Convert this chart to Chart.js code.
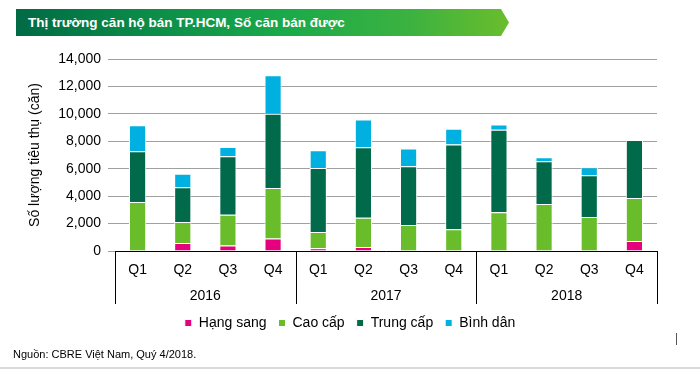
<!DOCTYPE html>
<html>
<head>
<meta charset="utf-8">
<script src="https://cdn.jsdelivr.net/npm/chart.js@4"></script>
<style>
  body { margin: 0; background: #fff; font-family: "Liberation Sans", Arial, sans-serif; }
  #wrap { position: relative; width: 700px; height: 370px; overflow: hidden; }
  #chartBar { position: absolute; left: 0; top: 0; }
  .banner {
    position: absolute; left: 16px; top: 9px; width: 493px; height: 27px;
    background: linear-gradient(to right, #006a45 0%, #0a8a48 25%, #1aaa4a 55%, #3cb240 80%, #6abd2c 100%);
    clip-path: polygon(0 0, 485px 0, 493px 13.5px, 485px 27px, 0 27px);
    color: #fff; font: bold 13.5px "Liberation Sans", Arial, sans-serif;
    line-height: 27px; padding-left: 12px; box-sizing: border-box;
  }
  .source { position: absolute; left: 13px; top: 348px; font-size: 11px; color: #000; }
  .rule { position: absolute; left: 0; top: 367px; width: 700px; height: 2px; background: #d9d9d9; }
  .tick { position: absolute; left: 676px; top: 333px; width: 1px; height: 12px; background: #555; }
</style>
</head>
<body>
<div id="wrap">
  <canvas id="chartBar" width="700" height="370"></canvas>
  <div class="banner">Thị trường căn hộ bán TP.HCM, Số căn bán được</div>
  <div class="source">Nguồn: CBRE Việt Nam, Quý 4/2018.</div>
  <div class="rule"></div>
  <div class="tick"></div>
</div>
<script>
var quarters = ["Q1", "Q2", "Q3", "Q4", "Q1", "Q2", "Q3", "Q4", "Q1", "Q2", "Q3", "Q4"];
var years = ["2016", "2017", "2018"];
var hangSang = [0, 580, 400, 920, 200, 300, 0, 0, 0, 0, 0, 730];
var caoCap = [3580, 1540, 2250, 3680, 1190, 2130, 1900, 1580, 2820, 3430, 2480, 3140];
var trungCap = [3690, 2520, 4250, 5400, 4670, 5130, 4280, 6180, 6030, 3110, 3040, 4230];
var binhDan = [1900, 1000, 690, 2820, 1290, 2020, 1290, 1150, 370, 290, 580, 0];
var yTicks = [0, 2000, 4000, 6000, 8000, 10000, 12000, 14000];

var font = "'Liberation Sans', Arial, sans-serif";

// year dividers under the category axis
var dividers = {
  id: "dividers",
  afterDraw: function (chart) {
    var x = chart.scales.x, x2 = chart.scales.x2, c = chart.ctx;
    var n = quarters.length, per = n / years.length;
    c.save();
    c.strokeStyle = "#000";
    c.lineWidth = 1;
    for (var k = 0; k <= years.length; k++) {
      var px = Math.round(x.left + x.width * (k * per) / n) + 0.5;
      c.beginPath();
      c.moveTo(px, chart.chartArea.bottom);
      c.lineTo(px, x2.bottom);
      c.stroke();
    }
    c.restore();
  }
};

var ctx = document.getElementById("chartBar").getContext("2d");

const chartBar = new Chart(ctx, {
  type: "bar",
  data: {
    labels: quarters,
    datasets: [
      { label: "Hạng sang", data: hangSang, backgroundColor: "#e6007e" },
      { label: "Cao cấp", data: caoCap, backgroundColor: "#6abd2a" },
      { label: "Trung cấp", data: trungCap, backgroundColor: "#006a4a" },
      { label: "Bình dân", data: binhDan, backgroundColor: "#00b0e0" },
    ],
  },
  options: {
    responsive: false,
    animation: false,
    layout: { padding: { top: 59, right: 0, bottom: 30, left: 0 } },
    datasets: {
      bar: { borderColor: "#fff", borderWidth: 1, barPercentage: 0.38, categoryPercentage: 1 },
    },
    plugins: {
      tooltip: { enabled: false },
      legend: {
        position: "bottom",
        labels: { boxWidth: 7, boxHeight: 7, padding: 12, color: "#000", font: { family: font, size: 14 } },
      },
    },
    scales: {
      x: {
        stacked: true,
        afterFit: function (s) { s.height = 30; },
        grid: { display: false, drawTicks: false },
        border: { display: true, color: "#000", width: 1 },
        ticks: { color: "#000", padding: 11, font: { family: font, size: 14 } },
      },
      x2: {
        type: "category",
        labels: years,
        position: "bottom",
        afterFit: function (s) { s.height = 23; },
        grid: { display: false, drawTicks: false },
        border: { display: false },
        ticks: { color: "#000", padding: 7, font: { family: font, size: 14 } },
      },
      y: {
        stacked: true,
        min: 0,
        max: 14000,
        afterBuildTicks: function (s) { s.ticks = yTicks.map(function (v) { return { value: v }; }); },
        afterFit: function (s) { s.width = 115; },
        grid: { color: "#a0a0a0", tickLength: 7 },
        border: { display: false },
        ticks: {
          color: "#000",
          padding: 7,
          font: { family: font, size: 14 },
          callback: function (v) { return v.toLocaleString("en-US"); },
        },
        title: {
          display: true,
          text: "Số lượng tiêu thụ (căn)",
          color: "#000",
          padding: { top: 27, bottom: 0 },
          font: { family: font, size: 14 },
        },
      },
      // empty right-hand gutter so the legend centres on the full width
      yRight: {
        position: "right",
        min: 0,
        max: 14000,
        afterFit: function (s) { s.width = 43; },
        grid: { display: false },
        border: { display: false },
        ticks: { display: false },
      },
    },
  },
  plugins: [dividers],
});
</script>
</body>
</html>
